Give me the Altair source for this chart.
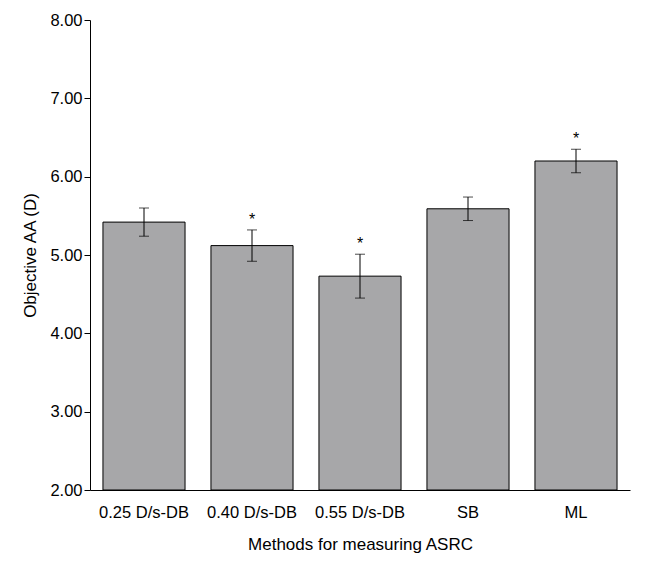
import altair as alt
import pandas as pd

methods = ["0.25 D/s-DB", "0.40 D/s-DB", "0.55 D/s-DB", "SB", "ML"]
means = [5.42, 5.12, 4.73, 5.59, 6.20]
errors = [0.18, 0.20, 0.28, 0.15, 0.15]
marks = ["", "*", "*", "", "*"]

df = pd.DataFrame({"method": methods, "mean": means, "err": errors, "star": marks})
df["lo"] = df["mean"] - df["err"]
df["hi"] = df["mean"] + df["err"]

x = alt.X("method:N", sort=methods, title="Methods for measuring ASRC",
          scale=alt.Scale(paddingInner=0.24, paddingOuter=0.12),
          axis=alt.Axis(labelAngle=0, ticks=False, labelPadding=14, titlePadding=16))
y_scale = alt.Scale(domain=[2, 8], nice=False)

base = alt.Chart(df)

bars = base.mark_bar(color="#a7a7a9", stroke="black", strokeWidth=1).encode(
    x=x,
    y=alt.Y("mean:Q", scale=y_scale, title="Objective AA (D)",
            axis=alt.Axis(values=[2, 3, 4, 5, 6, 7, 8], format=".2f", grid=False,
                          titlePadding=10)),
    y2=alt.datum(2),
)
rules = base.mark_rule(color="black").encode(x=x, y="lo:Q", y2="hi:Q")
caps_lo = base.mark_tick(color="black", size=10, thickness=1, orient="horizontal").encode(x=x, y="lo:Q")
caps_hi = base.mark_tick(color="black", size=10, thickness=1, orient="horizontal").encode(x=x, y="hi:Q")
stars = base.mark_text(fontSize=16, dy=-10, font="Liberation Sans").encode(x=x, y="hi:Q", text="star:N")

chart = (bars + rules + caps_lo + caps_hi + stars).properties(
    width=540, height=470,
    autosize=alt.AutoSizeParams(type="none"),
    padding={"left": 82, "top": 12, "right": 12, "bottom": 67},
).configure_view(stroke=None).configure_axis(
    domainColor="black", tickColor="black", labelColor="black", titleColor="black",
    labelFont="Liberation Sans", titleFont="Liberation Sans",
    labelFontSize=16.5, titleFontSize=17, titleFontWeight="normal", tickSize=6,
)

chart.save("out.html", embed_options={"renderer": "svg", "actions": False})
